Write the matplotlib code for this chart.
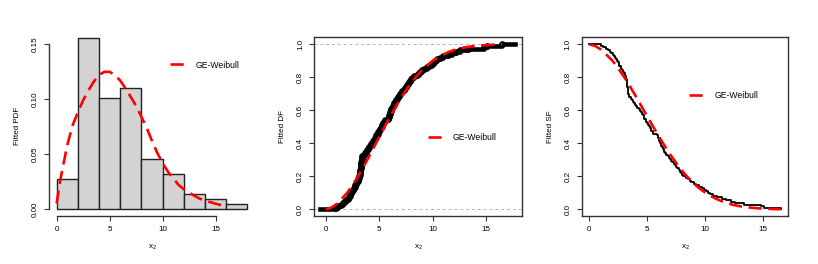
import numpy as np
import matplotlib
matplotlib.use('Agg')
import matplotlib.pyplot as plt

plt.rcParams['font.family'] = ['Liberation Sans', 'DejaVu Sans']
plt.rcParams['font.size'] = 5.8

# observed sample x2 (n = 109), estimated from the ECDF steps and histogram
x2 = np.array([
    1.0, 1.15, 1.4, 1.6, 1.75, 1.9,
    2.05, 2.15, 2.25, 2.3, 2.4, 2.5, 2.55, 2.6, 2.7, 2.75, 2.85, 2.9, 3.0, 3.05, 3.1, 3.15,
    3.2, 3.22, 3.24, 3.25, 3.27, 3.28, 3.3, 3.31, 3.33, 3.35, 3.37, 3.4, 3.42,
    3.55, 3.65, 3.75, 3.85, 3.95,
    4.05, 4.15, 4.25, 4.35, 4.45, 4.5, 4.6, 4.7, 4.75, 4.85, 4.9, 5.0, 5.1, 5.15, 5.25,
    5.3, 5.35, 5.45, 5.5, 5.85, 5.9, 5.95,
    6.02, 6.05, 6.1, 6.15, 6.2, 6.3, 6.35, 6.4, 6.45, 6.55,
    6.65, 6.75, 6.85, 6.95, 7.05, 7.15, 7.3, 7.4, 7.5, 7.6, 7.7, 7.8, 7.9, 7.95,
    8.1, 8.3, 8.5, 8.7, 8.8, 9.0, 9.2, 9.5, 9.7, 9.9,
    10.1, 10.2, 10.4, 10.7, 11.0, 11.4, 11.8,
    12.2, 12.6, 13.3,
    14.8, 15.1,
    16.5])
bins = [0, 2, 4, 6, 8, 10, 12, 14, 16, 18]

# fitted GE-Weibull density (red dashed, left panel)
pdf_x = [0, 0.25, 0.5, 1, 1.5, 2, 2.5, 3, 3.5, 4, 4.5, 5, 5.5, 6, 6.5, 7, 7.5, 8,
         8.5, 9, 9.5, 10, 10.5, 11, 11.5, 12, 12.5, 13, 13.5, 14, 14.5, 15, 15.5, 16]
pdf_y = [0.005, 0.021, 0.034, 0.058, 0.076, 0.088, 0.099, 0.108, 0.116, 0.122, 0.125,
         0.125, 0.122, 0.117, 0.110, 0.102, 0.094, 0.084, 0.074, 0.062, 0.051, 0.042,
         0.034, 0.028, 0.022, 0.018, 0.015, 0.012, 0.0094, 0.0077, 0.0062, 0.0048,
         0.0036, 0.0025]

# fitted GE-Weibull distribution function (middle panel), SF = 1 - DF
cdf_x = [0, 0.5, 1, 1.5, 2, 2.5, 3, 3.5, 4, 4.5, 5, 5.5, 6, 6.5, 7, 7.5, 8, 8.5,
         9, 9.5, 10, 10.5, 11, 11.5, 12, 12.5, 13, 13.5, 14, 14.5, 15, 15.5, 16, 16.5]
cdf_y = [0, 0.01, 0.032, 0.065, 0.10, 0.147, 0.198, 0.254, 0.314, 0.376, 0.438, 0.499,
         0.559, 0.616, 0.67, 0.72, 0.766, 0.807, 0.843, 0.873, 0.899, 0.92, 0.938,
         0.953, 0.965, 0.974, 0.981, 0.986, 0.99, 0.993, 0.995, 0.997, 0.998, 0.999]

label = 'GE-Weibull'
red = '#ff0000'
dash = (0, (5, 2.5))

fig = plt.figure(figsize=(8.18, 2.64), dpi=100)
bot, hgt = 48 / 264, 179.3 / 264
ax1 = fig.add_axes([49 / 818, bot, 206 / 818, hgt])
ax2 = fig.add_axes([314 / 818, bot, 208 / 818, hgt])
ax3 = fig.add_axes([581.7 / 818, bot, 206.6 / 818, hgt])

n = len(x2)
xs = np.sort(x2)
F = np.arange(1, n + 1) / n

# ---- panel 1: histogram + fitted pdf
ax1.hist(x2, bins=bins, density=True, color='#d3d3d3', edgecolor='#222222', linewidth=1.0)
ax1.plot(pdf_x, pdf_y, color=red, lw=1.9, linestyle=dash, label=label)
ax1.set_xlim(-0.72, 18.72)
ax1.set_ylim(-0.0064, 0.157)
ax1.set_xticks([0, 5, 10, 15])
ax1.set_yticks([0, 0.05, 0.10, 0.15])
ax1.set_yticklabels(['0.00', '0.05', '0.10', '0.15'])
for s in ['top', 'right']:
    ax1.spines[s].set_visible(False)
ax1.spines['bottom'].set_bounds(0, 15)
ax1.spines['left'].set_bounds(0, 0.15)
ax1.set_ylabel('Fitted PDF')

# ---- panel 2: ECDF + fitted DF
ax2.axhline(0, color='#b3b3b3', lw=0.7, ls=(0, (3, 3)))
ax2.axhline(1, color='#b3b3b3', lw=0.7, ls=(0, (3, 3)))
ax2.step(np.r_[-0.5, xs, 17.7], np.r_[0, F, 1], where='post', color='black', lw=3.3)
ax2.plot(xs, F, 'o', color='black', ms=3.8)
ax2.plot(cdf_x, cdf_y, color=red, lw=1.9, linestyle=dash, label=label)
ax2.set_xlim(-1.1, 18.37)
ax2.set_ylim(-0.04, 1.046)
ax2.set_xticks([0, 5, 10, 15])
ax2.set_yticks([0, 0.2, 0.4, 0.6, 0.8, 1.0])
ax2.set_yticklabels(['0.0', '0.2', '0.4', '0.6', '0.8', '1.0'])
ax2.set_ylabel('Fitted DF')

# ---- panel 3: empirical SF + fitted SF
ax3.step(np.r_[0, xs], np.r_[1, 1 - F], where='post', color='black', lw=1.3)
ax3.plot(cdf_x, 1 - np.array(cdf_y), color=red, lw=1.9, linestyle=dash, label=label)
ax3.set_xlim(-0.66, 17.16)
ax3.set_ylim(-0.04, 1.046)
ax3.set_xticks([0, 5, 10, 15])
ax3.set_yticks([0, 0.2, 0.4, 0.6, 0.8, 1.0])
ax3.set_yticklabels(['0.0', '0.2', '0.4', '0.6', '0.8', '1.0'])
ax3.set_ylabel('Fitted SF')

leg_pos = [(170 / 818, 199 / 264), (427.7 / 818, 126.7 / 264), (689 / 818, 168.3 / 264)]
for ax, pos in zip([ax1, ax2, ax3], leg_pos):
    for s in ax.spines.values():
        s.set_linewidth(1.0)
        s.set_color('#333333')
    ax.tick_params(direction='out', length=3.8, width=0.8, color='#333333',
                   labelsize=5.8, pad=3.4)
    ax.tick_params(axis='y', labelrotation=90)
    for t in ax.get_yticklabels():
        t.set_va('center')
    ax.set_xlabel('$\\mathregular{x_2}$', fontsize=5.8, labelpad=7)
    ax.yaxis.label.set_size(5.8)
    ax.yaxis.labelpad = 8
    ax.legend(loc='center left', bbox_to_anchor=pos, bbox_transform=fig.transFigure,
              frameon=False, handlelength=2.2, handletextpad=0.75, borderpad=0,
              borderaxespad=0, fontsize=6.2)

fig.savefig('out.png', dpi=100)
